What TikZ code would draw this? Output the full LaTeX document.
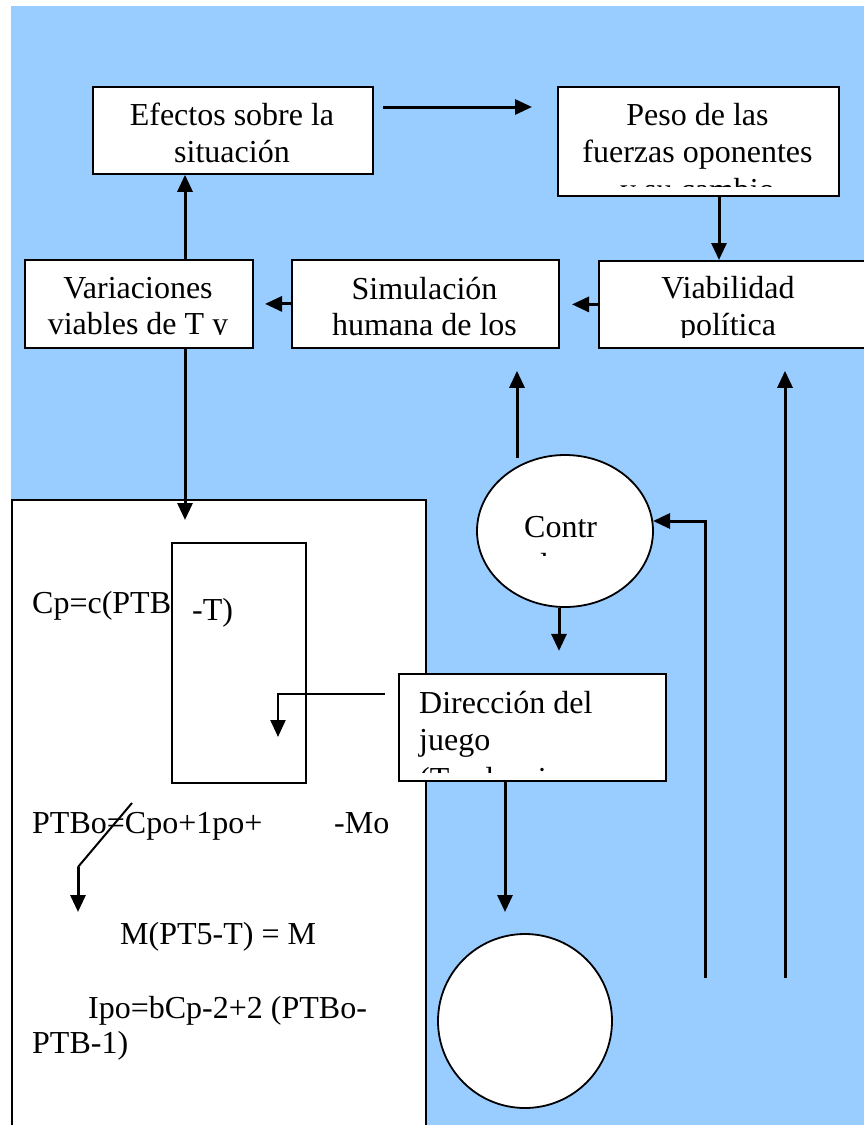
\documentclass[tikz,border=0pt]{standalone}
\usepackage{fontspec}
\setmainfont{Liberation Serif}
\usetikzlibrary{arrows.meta,shapes.geometric,calc}
\definecolor{bgblue}{RGB}{153,204,255}
\begin{document}
\begin{tikzpicture}[x=1pt,y=-1pt,
  box/.style={draw, fill=white, line width=1.8pt, inner sep=0pt, anchor=north west},
  txt/.style={inner sep=0pt, font=\fontsize{32}{37}\selectfont},
  arr/.style={line width=3pt, -{Triangle[length=17pt,width=15pt]}},
  plainline/.style={line width=3pt}]
\useasboundingbox (0,0) rectangle (864,1125);
\fill[bgblue] (11,6) rectangle (864,1125);

% left white panel and inner rectangle
\node[box, minimum width=414pt, minimum height=660pt] (leftbox) at (11,499) {};
\node[box, minimum width=134pt, minimum height=240pt] (inner) at (171,542) {};
\node[txt, anchor=base west] (t1) at (32,613) {Cp=c(PTB};
\node[txt, anchor=base west] (t2) at (192,620) {-T)};
\node[txt, anchor=base west] (t3) at (32,833) {PTBo=Cpo+1po+};
\node[txt, anchor=base west] (t4) at (334,833) {-Mo};
\node[txt, anchor=base west] (t5) at (120,944) {M(PT5-T) = M};
\node[txt, anchor=base west] (t6) at (88,1018) {Ipo=bCp-2+2 (PTBo-};
\node[txt, anchor=base west] (t7) at (32,1053) {PTB-1)};

% boxes
\node[box, minimum width=280pt, minimum height=87pt] (efectos) at (92,86) {};
\node[txt, anchor=base] at (232,125) {Efectos sobre la};
\node[txt, anchor=base] at (232,162) {situación};

\node[box, minimum width=281pt, minimum height=109pt] (peso) at (557,86) {};
\begin{scope}
  \clip (560,89) rectangle (835,186);
  \node[txt, anchor=base] at (697.5,125) {Peso de las};
  \node[txt, anchor=base] at (697.5,162) {fuerzas oponentes};
  \node[txt, anchor=base] at (697.5,200) {y su cambio};
\end{scope}

\node[box, minimum width=228pt, minimum height=88pt] (var) at (24,259) {};
\begin{scope}
  \clip (27,262) rectangle (249,334.5);
  \node[txt, anchor=base] at (138,298) {Variaciones};
  \node[txt, anchor=base] at (138,334) {viables de T y};
\end{scope}

\node[box, minimum width=267pt, minimum height=88pt] (sim) at (291,259) {};
\begin{scope}
  \clip (294,262) rectangle (555,337);
  \node[txt, anchor=base] at (424.5,299) {Simulación};
  \node[txt, anchor=base] at (424.5,335) {humana de los};
\end{scope}

\node[box, minimum width=290pt, minimum height=87pt] (viab) at (598,260) {};
\begin{scope}
  \clip (601,263) rectangle (864,337);
  \node[txt, anchor=base] at (728,298) {Viabilidad};
  \node[txt, anchor=base] at (728,335) {política};
\end{scope}

\node[ellipse, draw, fill=white, line width=1.8pt, minimum width=176pt, minimum height=152pt, inner sep=0pt] (contr) at (565,531) {};
\begin{scope}
  \clip (480,460) rectangle (650,555);
  \node[txt, anchor=base west] at (524,537) {Contr};
  \node[txt, anchor=base west] at (524,575) {ol};
\end{scope}

\node[box, minimum width=267pt, minimum height=107pt] (dir) at (398,673) {};
\begin{scope}
  \clip (401,676) rectangle (662,772);
  \node[txt, anchor=base west] at (419,713) {Dirección del};
  \node[txt, anchor=base west] at (419,750) {juego};
  \node[txt, anchor=base west] at (419,789) {(Tendencias y};
\end{scope}

\node[circle, draw, fill=white, line width=1.8pt, minimum size=174pt, inner sep=0pt] (circ) at (525,1021) {};

% connectors
\coordinate (ea) at (383,107);
\coordinate (eb) at (532,107);
\draw[arr] (ea) -- (eb);

\coordinate (px) at (719,0);
\draw[arr] (peso.south -| px) -- (viab.north -| px);

\draw[arr] (viab.west) -- ++(-26,0);
\draw[arr] (sim.west) -- ++(-26,0);

\coordinate (vx) at (185,0);
\draw[arr] (var.north -| vx) -- (efectos.south -| vx);
\coordinate (vend) at (185,520);
\draw[arr] (var.south -| vx) -- (vend);

\coordinate (sa) at (517,458);
\draw[arr, shorten >=22pt] (sa) -- (sa |- sim.south);

\coordinate (cx) at (559,0);
\draw[arr] (contr.south -| cx) -- ++(0,43);

\coordinate (da) at (385,694);
\coordinate (db) at (278,694);
\coordinate (dc) at (278,737);
\draw[arr, line width=2.2pt] (da) -- (db) -- (dc);

\coordinate (dx) at (505,0);
\coordinate (dend) at (505,912);
\draw[arr] (dir.south -| dx) -- (dend);

\coordinate (la) at (705,978);
\coordinate (lb) at (705,521);
\coordinate (lc) at (653,521);
\draw[arr] (la) -- (lb) -- (lc);

\coordinate (ra) at (785,978);
\draw[arr, shorten >=22pt] (ra) -- (ra |- viab.south);

\coordinate (sl1) at (132,803);
\coordinate (sl2) at (78,867);
\coordinate (sl3) at (78,912);
\draw[line width=2pt] (sl1) -- (sl2);
\draw[arr] (sl2) -- (sl3);
\end{tikzpicture}
\end{document}
